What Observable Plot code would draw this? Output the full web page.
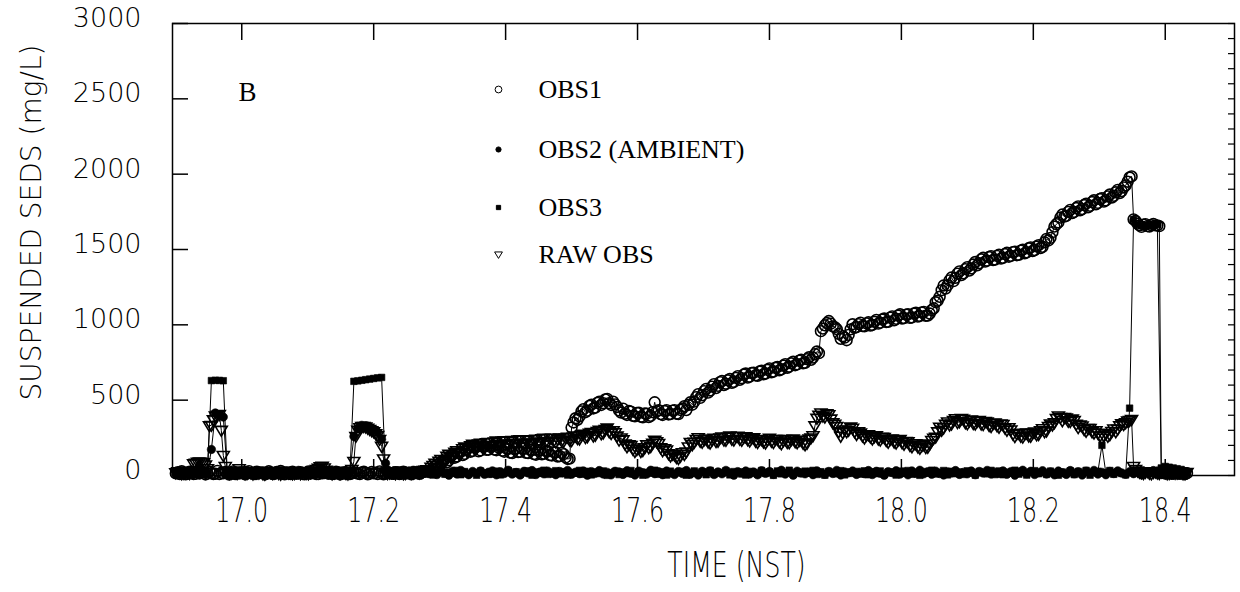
<!DOCTYPE html>
<html>
<head>
<meta charset="utf-8">
<script src="https://cdn.jsdelivr.net/npm/d3@7"></script>
<script src="https://cdn.jsdelivr.net/npm/@observablehq/plot@0.6"></script>
<style>
  html, body { margin: 0; padding: 0; background: #fff; }
  #chart svg { display: block; }
</style>
</head>
<body>
<div id="chart"></div>
<script>
// Record start (decimal hours NST) and sample intervals (hours)
const t0 = 16.90;
const fastStep = 0.003;   // OBS1 and raw OBS
const slowStep = 0.006;   // OBS2 and OBS3

// Suspended sediment concentration (mg/L), one value per sample
const obs1 = [
  14,22,10,28,16,8,12,25,18,9,11,30,15,20,20,7,
  13,26,17,10,12,31,9,18,14,24,19,6,12,27,9,15,
  13,21,17,8,12,29,16,11,10,25,14,19,18,7,12,28,
  15,10,11,23,16,30,13,8,19,17,10,26,14,11,15,22,
  12,8,17,27,12,19,16,9,10,31,14,16,18,12,22,9,
  11,25,16,7,13,21,11,29,9,14,20,17,13,9,20,26,
  17,8,12,23,14,18,10,27,16,8,13,24,18,12,11,22,
  15,9,14,26,12,17,17,8,13,21,16,11,20,28,24,30,
  33,28,37,60,72,58,74,95,109,88,102,128,141,118,126,150,157,135,143,172,184,158,163,185,190,160,166,192,194,170,171,190,
  194,172,168,186,194,165,158,180,177,152,149,175,179,155,157,178,179,150,149,170,168,142,138,165,169,140,145,162,161,135,133,155,
  154,126,129,150,142,120,110,112,318,352,380,370,393,425,440,420,430,462,470,445,451,482,490,468,480,505,508,480,468,490,472,455,
  432,418,444,410,402,428,424,396,393,415,416,390,386,412,410,388,396,420,486,425,433,408,402,428,434,405,408,430,434,410,408,435,
  444,460,434,468,486,470,490,520,540,515,533,560,575,550,564,590,606,580,595,620,627,600,609,632,641,615,621,648,659,635,646,670,
  677,650,656,680,683,665,662,690,696,672,677,702,711,685,690,715,720,698,705,730,739,715,722,745,756,732,738,762,768,745,748,772,
  785,768,783,805,823,812,958,975,997,1012,1025,1008,990,985,972,940,907,925,915,898,933,970,1004,980,985,1005,1014,992,990,1010,1017,995,
  999,1020,1033,1008,1014,1035,1042,1018,1020,1048,1056,1030,1040,1062,1070,1042,1045,1068,1070,1046,1049,1075,1080,1055,1059,1082,1086,1060,1061,1075,1097,1110,
  1150,1160,1186,1230,1261,1240,1263,1295,1314,1290,1312,1340,1355,1330,1342,1370,1383,1360,1374,1400,1417,1395,1409,1435,1445,1420,1426,1450,1456,1430,1433,1458,
  1466,1440,1445,1470,1478,1452,1458,1482,1486,1462,1465,1492,1499,1475,1481,1508,1514,1490,1496,1520,1529,1510,1518,1548,1570,1560,1577,1615,1652,1668,1680,1712,
  1732,1718,1723,1750,1763,1742,1749,1775,1786,1760,1768,1795,1804,1780,1790,1815,1827,1800,1809,1835,1841,1818,1826,1852,1865,1845,1856,1880,1896,1875,1888,1912,
  1925,1950,1978,1985,1700,1690,1672,1660,1650,1665,1668,1655,1652,1662,1670,1660,1660,1655,20,16,15,22,18,12,12,18,16,11,14,19,10,15
];

const rawObs = [
  18,25,22,12,15,28,20,14,25,78,82,88,90,86,85,70,45,330,333,370,395,400,405,300,133,60,20,14,16,24,22,13,
  45,30,20,12,14,26,18,10,24,17,17,28,12,9,19,25,22,14,16,27,13,8,20,29,25,16,18,11,14,27,21,12,
  17,26,15,11,22,28,30,40,48,58,62,50,35,26,20,12,16,25,22,13,18,27,14,10,20,40,94,260,300,318,325,326,
  322,314,305,298,290,278,265,240,194,110,22,14,16,25,20,12,24,30,18,11,14,26,21,15,17,28,23,16,28,33,35,38,
  34,55,67,82,68,95,107,90,102,128,142,120,130,155,165,145,151,178,189,165,176,198,208,185,187,210,215,196,193,218,220,200,
  200,222,229,208,206,228,231,210,203,226,232,212,213,236,238,215,212,234,237,216,213,238,241,222,220,245,248,226,224,246,248,230,
  222,240,249,230,227,250,255,236,232,256,263,245,242,268,274,252,257,280,286,262,267,292,300,278,283,305,315,290,279,298,284,262,
  235,250,237,210,191,205,199,175,159,172,183,160,166,185,204,185,193,215,235,225,213,185,164,178,170,145,130,142,137,120,113,128,
  152,140,157,190,219,205,221,240,251,228,221,238,242,222,216,235,247,226,228,250,256,235,234,255,262,240,236,258,261,240,234,252,
  258,238,229,248,251,228,220,238,239,222,216,235,248,228,220,240,240,222,211,230,239,220,217,238,243,224,217,232,234,215,205,215,
  242,250,264,330,380,400,415,395,388,410,404,375,350,340,325,290,261,285,303,290,301,322,314,290,273,290,282,262,249,268,271,255,
  243,258,264,242,235,255,253,232,221,240,243,222,216,235,240,218,208,226,224,200,191,210,211,190,181,198,205,186,188,210,233,248,
  255,290,321,300,316,340,356,335,342,365,377,352,357,378,374,350,343,362,368,345,342,360,366,342,338,358,355,332,326,345,348,330,
  321,342,339,315,300,318,303,275,259,278,281,260,255,276,282,262,261,282,289,270,273,298,311,290,296,325,342,335,350,378,396,385,
  364,385,382,360,359,375,365,340,318,335,329,305,294,312,313,290,282,298,280,262,248,262,277,260,270,292,309,290,308,330,344,338,
  350,362,366,372,60,40,30,22,18,14,22,26,15,11,20,24,17,13,24,28,19,12,14,22,21,15,16,25,18,11,12,20
];

const obs2 = [
  8,30,4,22,35,12,3,26,13,173,415,400,388,18,30,5,
  25,9,33,14,2,28,18,6,31,12,24,4,29,16,8,34,
  20,5,27,11,33,7,24,15,3,30,18,9,26,259,312,333,
  330,320,305,285,240,81,26,4,31,13,22,7,35,15,3,27,
  12,32,6,24,16,2,29,10,34,19,5,27,14,30,8,22,
  31,4,25,13,35,9,20,3,28,17,33,6,23,11,29,15,
  5,27,18,34,8,22,12,30,2,26,15,33,10,21,4,28,
  24,7,32,14,3,29,19,9,35,12,25,5,30,16,6,27,
  13,33,8,21,3,28,17,31,6,24,11,34,15,2,26,19,
  30,10,23,4,32,14,27,7,20,35,9,25,2,29,17,11,
  22,5,31,16,8,27,13,34,3,24,18,30,7,21,12,33,
  6,28,15,2,26,19,32,9,23,4,30,14,35,11,25,8,
  29,13,3,24,17,33,7,21,11,30,5,27,16,34,9,20,
  14,31,8,26,2,22,35,12,28,6,19,32,10,24,4,30,
  18,7,33,11,25,3,29,15,34,9,21,5,27,13,31,17,
  8,25,12,30,4,22,16,33,10,27,3,19,29,14,6,24
];

const obs3 = [
  20,6,28,12,3,25,15,31,9,630,632,631,629,22,4,17,
  2,24,10,33,16,5,27,13,30,7,21,34,11,3,26,18,
  29,8,19,4,32,14,23,1,27,11,35,6,18,625,628,632,
  636,640,644,648,651,15,30,5,24,12,33,3,20,28,9,16,
  27,3,19,31,8,23,14,34,5,26,11,20,2,30,17,7,
  9,29,4,21,33,12,25,6,18,31,2,24,14,35,7,22,
  32,11,26,3,20,15,34,8,28,4,23,13,30,1,19,27,
  6,24,13,33,10,27,2,21,16,35,8,25,3,29,14,20,
  28,2,17,30,12,25,5,34,9,22,15,31,4,26,18,10,
  3,27,20,8,33,14,24,1,30,11,19,35,6,23,13,29,
  16,34,7,25,2,28,18,11,32,4,22,14,27,9,31,5,
  25,12,30,6,23,17,3,29,14,33,8,20,1,26,15,35,
  10,21,33,4,28,12,24,7,31,16,2,27,19,11,34,6,
  30,5,22,15,35,9,26,3,20,32,12,25,7,29,17,2,
  23,14,31,6,27,11,34,2,19,28,200,16,33,8,24,13,
  4,447,1700,1665,1660,1658,1660,1662,1665,50,60,55,50,45,40,30
];

// Axis ticks and labels
const xTicks = [17.0, 17.2, 17.4, 17.6, 17.8, 18.0, 18.2, 18.4];
const yTicks = [0, 500, 1000, 1500, 2000, 2500, 3000];
const yMinorTicks = d3.range(0, 3001, 100);
const xLabel = "TIME (NST)";
const yLabel = "SUSPENDED SEDS (mg/L)";
const panelLetter = "B";
const legendLabels = ["OBS1", "OBS2 (AMBIENT)", "OBS3", "RAW OBS"];

// Turn a value list into {t, v} rows on its sampling grid
const toRows = (values, step) => values.map((v, i) => ({t: t0 + i * step, v}));

// Downward-pointing open triangle
const triangleDown = {
  draw(context, size) {
    const r = Math.sqrt(size / Math.PI);
    context.moveTo(-1.15 * r, -0.75 * r);
    context.lineTo(1.15 * r, -0.75 * r);
    context.lineTo(0, 1.15 * r);
    context.closePath();
  }
};

const styles = [
  {label: legendLabels[0], values: obs1,   step: fastStep, symbol: "circle", fill: "none",  r: 5.4, sw: 1.6, legendR: 3.4},
  {label: legendLabels[1], values: obs2,   step: slowStep, symbol: "circle", fill: "black", r: 4.2, sw: 0.6, legendR: 2.6},
  {label: legendLabels[2], values: obs3,   step: slowStep, symbol: "square", fill: "black", r: 3.7, sw: 0.6, legendR: 2.4},
  {label: legendLabels[3], values: rawObs, step: fastStep, symbol: triangleDown, fill: "none", r: 5.2, sw: 1.6, legendR: 3.4}
];

const legendRowY = [89, 149, 207, 254];
const marginLeft = 172, marginTop = 23;

const lightFont = "'DejaVu Sans', 'Open Sans', sans-serif";
const serifFont = "'Liberation Serif', 'DejaVu Serif', serif";

const lineMarks = styles.map(s => Plot.line(toRows(s.values, s.step), {x: "t", y: "v", stroke: "black", strokeWidth: 1}));
const dotOrder = [2, 1, 3, 0];
const dotMarks = dotOrder.map(k => {
  const s = styles[k];
  return Plot.dot(toRows(s.values, s.step), {
    x: "t", y: "v", r: s.r, symbol: s.symbol,
    fill: s.fill, stroke: "black", strokeWidth: s.sw
  });
});

const legendMarks = styles.flatMap((s, k) => [
  Plot.dot([s.label], {
    frameAnchor: "top-left", dx: 498 - marginLeft, dy: legendRowY[k] - marginTop,
    r: s.legendR, symbol: s.symbol, fill: s.fill, stroke: "black", strokeWidth: 1
  }),
  Plot.text([s.label], {
    frameAnchor: "top-left", dx: 538 - marginLeft, dy: legendRowY[k] - marginTop,
    text: d => d, textAnchor: "start", lineAnchor: "middle",
    fontFamily: serifFont, fontSize: 26, fill: "black"
  })
]);

const chart = Plot.plot({
  width: 1240,
  height: 592,
  marginLeft,
  marginRight: 6,
  marginTop,
  marginBottom: 117,
  style: {background: "white", color: "black", overflow: "visible"},
  x: {domain: [16.895, 18.505]},
  y: {domain: [0, 3000]},
  marks: [
    // inward ticks on all four sides
    Plot.axisX({anchor: "bottom", ticks: xTicks, tickSize: -16, tickFormat: () => "", label: null, strokeWidth: 1.5}),
    Plot.axisX({anchor: "top", ticks: xTicks, tickSize: -16, tickFormat: () => "", label: null, strokeWidth: 1.5}),
    Plot.axisY({anchor: "left", ticks: yTicks, tickSize: -16, tickFormat: () => "", label: null, strokeWidth: 1.5}),
    Plot.axisY({anchor: "right", ticks: yMinorTicks, tickSize: -7, tickFormat: () => "", label: null, strokeWidth: 1.2}),
    // tick labels
    Plot.axisX({anchor: "bottom", ticks: xTicks, tickSize: 0, tickPadding: 23, tickFormat: d3.format(".1f"),
      label: null, fontFamily: lightFont, fontSize: 33, fontWeight: 200}),
    Plot.axisY({anchor: "left", ticks: yTicks, tickSize: 0, tickPadding: 31, tickFormat: d => String(d),
      label: null, fontFamily: lightFont, fontSize: 27, fontWeight: 200, dy: -5}),
    Plot.frame({stroke: "black", strokeWidth: 1.5}),
    // axis titles and panel letter
    Plot.text([xLabel], {frameAnchor: "bottom", dx: 33, dy: 90, text: d => d, textAnchor: "middle", lineAnchor: "middle",
      fontFamily: lightFont, fontSize: 35, fontWeight: 200, fill: "black"}),
    Plot.text([yLabel], {frameAnchor: "left", dx: -140, dy: -27, rotate: -90, text: d => d,
      textAnchor: "middle", lineAnchor: "middle",
      fontFamily: lightFont, fontSize: 28, fontWeight: 200, fill: "black"}),
    Plot.text([panelLetter], {frameAnchor: "top-left", dx: 75, dy: 69, text: d => d,
      textAnchor: "middle", lineAnchor: "middle",
      fontFamily: serifFont, fontSize: 27, fill: "black"}),
    // series
    ...lineMarks,
    ...dotMarks,
    ...legendMarks
  ]
});

// The time axis lettering is set narrow (horizontally condensed)
function condense(el, k) {
  const tr = el.getAttribute("transform");
  if (tr) {
    el.setAttribute("transform", tr + ` scale(${k},1)`);
  } else {
    const x = +el.getAttribute("x") || 0;
    el.setAttribute("transform", `translate(${x},0) scale(${k},1) translate(${-x},0)`);
  }
}
const narrowTexts = new Set([xLabel, ...xTicks.map(d3.format(".1f"))]);
d3.select(chart).selectAll("text")
  .filter(function() { return narrowTexts.has(this.textContent); })
  .each(function() { condense(this, 0.72); });

document.getElementById("chart").append(chart);
</script>
</body>
</html>
